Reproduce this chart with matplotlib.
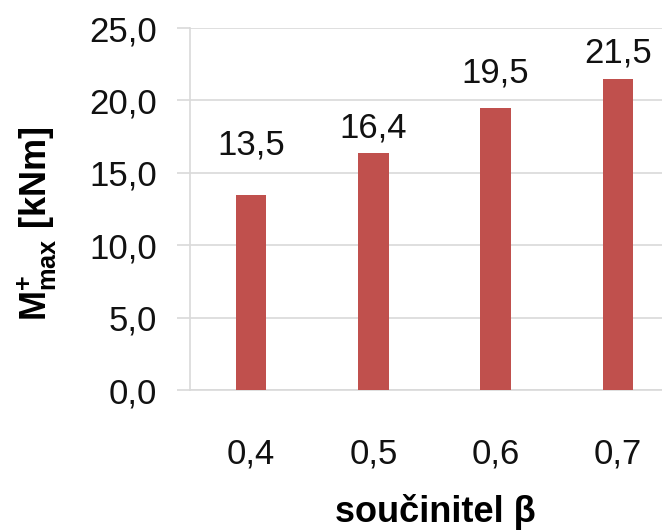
import matplotlib
matplotlib.use('Agg')
import matplotlib.pyplot as plt

# data
beta = ['0,4', '0,5', '0,6', '0,7']
m_max = [13.5, 16.4, 19.5, 21.5]
y_ticks = [0, 5, 10, 15, 20, 25]

# how far above each bar its value label sits (label baselines were moved by hand)
label_gap = [2.73, 1.07, 1.77, 1.15]

plt.rcParams['font.family'] = ['Liberation Sans', 'DejaVu Sans']
plt.rcParams['mathtext.fontset'] = 'custom'
plt.rcParams['mathtext.rm'] = 'Liberation Sans'
plt.rcParams['mathtext.bf'] = 'Liberation Sans:bold'

fig = plt.figure(figsize=(6.62, 5.31), dpi=100)
# plot area runs a little past the right edge of the picture
ax = fig.add_axes([190 / 662, 141 / 531, 489 / 662, 362 / 531])

grid_col = '#D9D9D9'
bar_col = '#C0504D'

x = range(len(beta))
ax.bar(x, m_max, width=0.25, color=bar_col, zorder=3)

for i, v in enumerate(m_max):
  ax.text(i, v + label_gap[i], ('%.1f' % v).replace('.', ','),
          ha='center', va='baseline', fontsize=25, color='#111111')

ax.set_xlim(-0.5, 3.5)
ax.set_ylim(0, 25)
ax.set_yticks(y_ticks)
ax.set_yticklabels([('%.1f' % t).replace('.', ',') for t in y_ticks])
ax.set_xticks(list(x))
ax.set_xticklabels(beta)

ax.yaxis.grid(True, color=grid_col, linewidth=1.2, zorder=0)
ax.set_axisbelow(True)
for side in ['top', 'right']:
  ax.spines[side].set_visible(False)
ax.spines['left'].set_color(grid_col)
ax.spines['bottom'].set_color(grid_col)
ax.spines['left'].set_linewidth(1.2)
ax.spines['bottom'].set_linewidth(1.2)

ax.tick_params(axis='y', length=9.5, width=1.2, color=grid_col, pad=14,
               labelsize=25, labelcolor='#111111')
ax.tick_params(axis='x', length=0, pad=34, labelsize=25, labelcolor='#111111')

ax.set_xlabel('součinitel β', fontsize=26, fontweight='bold', va='center')
ax.xaxis.set_label_coords(0.501, -0.338)
ax.set_ylabel(r'$\mathbf{M}^{\mathbf{+}}_{\mathbf{max}}$ [kNm]', fontsize=26,
              fontweight='bold', va='center')
ax.yaxis.set_label_coords(-0.313, 0.459)

fig.savefig('out.png', dpi=100)
